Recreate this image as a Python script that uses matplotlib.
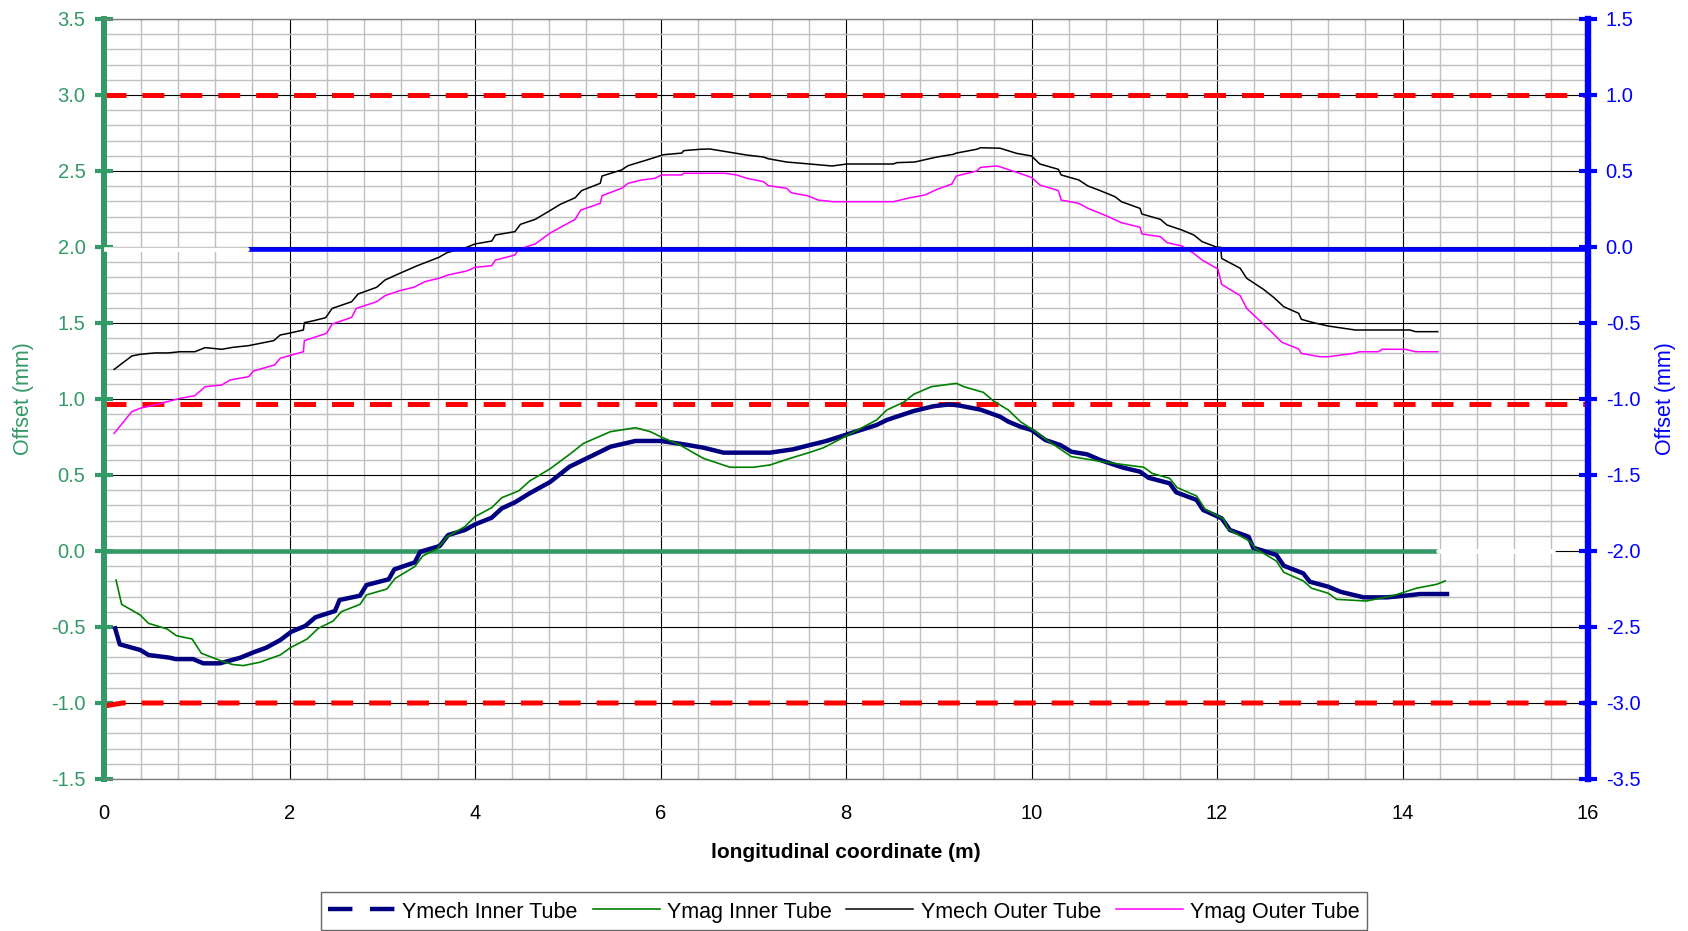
import matplotlib
matplotlib.use("Agg")
import matplotlib.pyplot as plt
from matplotlib.lines import Line2D
from matplotlib.ticker import MultipleLocator, FormatStrFormatter

# ---------------- data ----------------
x_mech_outer = [0.11, 0.30, 0.39, 0.55, 0.69, 0.82, 0.98, 1.09, 1.27, 1.39,
                1.56, 1.83, 1.90, 1.99, 2.15, 2.16, 2.26, 2.39, 2.46, 2.67,
                2.74, 2.94, 3.03, 3.19, 3.37, 3.61, 3.70, 3.91, 4.00, 4.18,
                4.22, 4.43, 4.49, 4.65, 4.81, 4.92, 5.08, 5.15, 5.35, 5.37,
                5.58, 5.65, 5.85, 6.00, 6.03, 6.23, 6.25, 6.43, 6.53, 6.71,
                6.93, 7.11, 7.16, 7.36, 7.61, 7.85, 8.01, 8.51, 8.55, 8.74,
                8.98, 9.16, 9.19, 9.41, 9.45, 9.66, 9.84, 10.00, 10.09, 10.29,
                10.32, 10.51, 10.61, 10.74, 10.90, 10.97, 11.17, 11.19, 11.39, 11.46,
                11.62, 11.75, 11.84, 12.00, 12.04, 12.05, 12.25, 12.32, 12.50, 12.61,
                12.72, 12.88, 12.91, 13.04, 13.20, 13.49, 14.08, 14.14, 14.38]
y_mech_outer = [1.195, 1.283, 1.294, 1.303, 1.303, 1.311, 1.311, 1.338, 1.327, 1.340,
                1.351, 1.384, 1.421, 1.432, 1.454, 1.502, 1.515, 1.535, 1.596, 1.640,
                1.691, 1.735, 1.783, 1.827, 1.875, 1.932, 1.963, 1.998, 2.020, 2.039,
                2.079, 2.101, 2.149, 2.182, 2.240, 2.281, 2.324, 2.371, 2.419, 2.467,
                2.507, 2.535, 2.572, 2.601, 2.607, 2.618, 2.634, 2.643, 2.645, 2.627,
                2.605, 2.592, 2.581, 2.559, 2.546, 2.533, 2.546, 2.546, 2.555, 2.559,
                2.592, 2.610, 2.618, 2.643, 2.653, 2.650, 2.616, 2.599, 2.546, 2.511,
                2.474, 2.441, 2.401, 2.371, 2.331, 2.298, 2.254, 2.217, 2.182, 2.145,
                2.112, 2.079, 2.035, 1.998, 1.998, 1.925, 1.860, 1.794, 1.722, 1.669,
                1.607, 1.564, 1.524, 1.502, 1.480, 1.454, 1.454, 1.443, 1.443]

x_mag_outer = [0.11, 0.30, 0.39, 0.50, 0.68, 0.82, 0.98, 1.09, 1.27, 1.36,
               1.56, 1.61, 1.84, 1.90, 2.15, 2.16, 2.40, 2.46, 2.67, 2.72,
               2.94, 3.03, 3.19, 3.34, 3.46, 3.61, 3.71, 3.91, 4.00, 4.18,
               4.22, 4.43, 4.47, 4.65, 4.81, 5.08, 5.14, 5.35, 5.37, 5.58,
               5.65, 5.80, 5.94, 6.01, 6.23, 6.25, 6.70, 6.82, 6.93, 7.11,
               7.16, 7.36, 7.41, 7.59, 7.70, 7.86, 8.51, 8.69, 8.85, 8.98,
               9.14, 9.19, 9.41, 9.45, 9.62, 9.66, 10.00, 10.09, 10.29, 10.32,
               10.51, 10.61, 10.81, 10.97, 11.17, 11.19, 11.39, 11.46, 11.62, 11.75,
               11.84, 12.01, 12.05, 12.25, 12.32, 12.50, 12.70, 12.88, 12.91, 13.11,
               13.20, 13.47, 13.54, 13.74, 13.78, 14.03, 14.14, 14.38]
y_mag_outer = [0.774, 0.917, 0.939, 0.954, 0.982, 1.004, 1.022, 1.081, 1.092, 1.125,
               1.147, 1.184, 1.224, 1.268, 1.311, 1.384, 1.432, 1.493, 1.537, 1.596,
               1.640, 1.680, 1.713, 1.735, 1.772, 1.794, 1.816, 1.842, 1.866, 1.877,
               1.914, 1.947, 1.985, 2.020, 2.092, 2.182, 2.243, 2.287, 2.338, 2.386,
               2.419, 2.441, 2.452, 2.474, 2.474, 2.485, 2.485, 2.474, 2.452, 2.430,
               2.404, 2.386, 2.357, 2.336, 2.309, 2.298, 2.298, 2.324, 2.342, 2.379,
               2.414, 2.467, 2.500, 2.524, 2.533, 2.528, 2.458, 2.408, 2.371, 2.309,
               2.287, 2.254, 2.204, 2.160, 2.130, 2.086, 2.068, 2.029, 2.007, 1.958,
               1.914, 1.855, 1.754, 1.680, 1.596, 1.493, 1.373, 1.329, 1.300, 1.278,
               1.278, 1.300, 1.311, 1.311, 1.327, 1.327, 1.311, 1.311]

x_mech_inner = [0.12, 0.17, 0.39, 0.48, 0.71, 0.77, 0.96, 1.07, 1.25, 1.47,
                1.61, 1.75, 1.90, 2.02, 2.17, 2.28, 2.49, 2.54, 2.76, 2.83,
                3.07, 3.13, 3.35, 3.41, 3.62, 3.71, 3.89, 4.00, 4.18, 4.29,
                4.43, 4.59, 4.81, 5.02, 5.28, 5.46, 5.73, 6.00, 6.25, 6.46,
                6.68, 7.18, 7.43, 7.61, 7.79, 8.01, 8.33, 8.44, 8.73, 8.94,
                9.12, 9.23, 9.45, 9.66, 9.75, 9.88, 10.00, 10.15, 10.31, 10.43,
                10.60, 10.74, 10.88, 10.99, 11.17, 11.26, 11.49, 11.56, 11.78, 11.85,
                12.05, 12.14, 12.34, 12.39, 12.64, 12.72, 12.93, 13.00, 13.20, 13.33,
                13.58, 13.83, 14.03, 14.19, 14.48]
y_mech_inner = [-0.509, -0.614, -0.651, -0.684, -0.702, -0.711, -0.711, -0.739, -0.739, -0.702,
                -0.667, -0.636, -0.586, -0.531, -0.493, -0.436, -0.395, -0.322, -0.294, -0.224,
                -0.186, -0.121, -0.075, -0.005, 0.033, 0.105, 0.138, 0.175, 0.219, 0.281,
                0.320, 0.380, 0.454, 0.555, 0.632, 0.686, 0.724, 0.724, 0.702, 0.680,
                0.647, 0.647, 0.669, 0.697, 0.724, 0.767, 0.829, 0.862, 0.921, 0.952,
                0.965, 0.956, 0.930, 0.884, 0.851, 0.818, 0.796, 0.730, 0.697, 0.653,
                0.636, 0.599, 0.570, 0.548, 0.522, 0.482, 0.445, 0.386, 0.336, 0.270,
                0.215, 0.138, 0.094, 0.022, -0.026, -0.097, -0.147, -0.202, -0.235, -0.268,
                -0.305, -0.305, -0.294, -0.283, -0.283]

x_mag_inner = [0.13, 0.19, 0.39, 0.48, 0.68, 0.78, 0.95, 1.05, 1.27, 1.38,
               1.50, 1.68, 1.90, 2.01, 2.19, 2.31, 2.47, 2.56, 2.76, 2.83,
               3.05, 3.14, 3.35, 3.44, 3.59, 3.70, 3.89, 4.00, 4.18, 4.29,
               4.47, 4.59, 4.81, 5.02, 5.17, 5.46, 5.73, 5.89, 6.00, 6.21,
               6.46, 6.75, 7.00, 7.18, 7.40, 7.61, 7.76, 8.01, 8.33, 8.44,
               8.62, 8.73, 8.92, 9.19, 9.27, 9.48, 9.59, 9.66, 9.75, 9.88,
               10.02, 10.15, 10.43, 10.81, 11.21, 11.30, 11.49, 11.57, 11.78, 11.87,
               12.07, 12.12, 12.36, 12.41, 12.64, 12.72, 12.93, 13.02, 13.20, 13.29,
               13.61, 13.90, 14.15, 14.37, 14.46]
y_mag_inner = [-0.191, -0.351, -0.421, -0.476, -0.513, -0.557, -0.579, -0.673, -0.724, -0.746,
               -0.754, -0.732, -0.684, -0.636, -0.579, -0.509, -0.461, -0.399, -0.351, -0.289,
               -0.250, -0.180, -0.103, -0.031, 0.013, 0.094, 0.160, 0.226, 0.285, 0.351,
               0.395, 0.461, 0.541, 0.636, 0.708, 0.785, 0.811, 0.785, 0.752, 0.697,
               0.610, 0.551, 0.551, 0.566, 0.610, 0.649, 0.680, 0.759, 0.862, 0.928,
               0.978, 1.031, 1.081, 1.103, 1.081, 1.044, 0.987, 0.961, 0.928, 0.851,
               0.796, 0.737, 0.621, 0.583, 0.551, 0.511, 0.478, 0.417, 0.362, 0.276,
               0.211, 0.145, 0.061, 0.018, -0.066, -0.140, -0.197, -0.245, -0.278, -0.318,
               -0.329, -0.294, -0.245, -0.219, -0.197]

# reference / tolerance lines (left-axis units)
tol_x = [0.0, 16.0]
tol_high = [3.0, 3.0]
tol_mid = [0.97, 0.97]
tol_low_x = [0.0, 0.2, 16.0]
tol_low = [-1.02, -1.0, -1.0]
zero_left_x = [0.0, 14.38]
zero_left_y = [0.0, 0.0]
zero_left_blank_x = [14.38, 15.62]
# right-axis zero line
zero_right_x = [1.54, 16.0]
zero_right_y = [-0.015, -0.015]
zero_right_blank_x = [0.0, 1.54]

series_labels = ["Ymech Inner Tube", "Ymag Inner Tube", "Ymech Outer Tube", "Ymag Outer Tube"]

# ---------------- style ----------------
plt.rcParams['font.family'] = ['Liberation Sans', 'DejaVu Sans']
plt.rcParams['axes.unicode_minus'] = False
plt.rcParams['lines.scale_dashes'] = False

GREEN = '#339966'
BLUE = '#0000ff'
NAVY = '#000080'
TICK_FS = 14.5

W, H = 1688, 931
fig = plt.figure(figsize=(W / 100, H / 100), dpi=100)
L, R, T, B = 104, 1588, 19, 779
ax = fig.add_axes([L / W, 1 - B / H, (R - L) / W, (B - T) / H])
ax.set_xlim(0, 16)
ax.set_ylim(-1.5, 3.5)
ax.xaxis.set_major_locator(MultipleLocator(2))
ax.xaxis.set_minor_locator(MultipleLocator(0.4))
ax.yaxis.set_major_locator(MultipleLocator(0.5))
ax.yaxis.set_minor_locator(MultipleLocator(0.1))
ax.yaxis.set_major_formatter(FormatStrFormatter('%.1f'))
ax.set_axisbelow(True)
ax.grid(which='minor', color='#c0c0c0', lw=1.0)
ax.grid(which='major', color='black', lw=0.8)

ax.tick_params(axis='x', which='both', length=0, pad=18.0, labelsize=TICK_FS, labelcolor='black')
ax.tick_params(axis='y', which='major', direction='inout', length=13.5, width=3,
               color=GREEN, labelcolor=GREEN, labelsize=TICK_FS, pad=6.5)
ax.tick_params(axis='y', which='minor', length=0)

ax.spines['left'].set_color(GREEN)
ax.spines['left'].set_linewidth(4.3)
ax.spines['right'].set_visible(False)
for s in ('top', 'bottom'):
    ax.spines[s].set_color('#808080')
    ax.spines[s].set_linewidth(1.0)

# tolerance lines
red_kw = dict(color='#ff0000', lw=3.6, dashes=(15.8, 11.5), solid_capstyle='butt')
ax.plot(tol_x, tol_high, **red_kw)
ax.plot(tol_x, tol_mid, **red_kw)
ax.plot(tol_low_x, tol_low, **red_kw)

# zero line of the left axis
ax.plot(zero_left_x, zero_left_y, color=GREEN, lw=3.3, solid_capstyle='butt')
ax.plot(zero_left_blank_x, zero_left_y, color='white', lw=3.3, solid_capstyle='round')

# data series
ax.plot(x_mech_inner, y_mech_inner, color=NAVY, lw=3.2, solid_joinstyle='round')
ax.plot(x_mag_inner, y_mag_inner, color='#008000', lw=1.2)
ax.plot(x_mech_outer, y_mech_outer, color='black', lw=1.1)
ax.plot(x_mag_outer, y_mag_outer, color='#ff00ff', lw=1.1)

# right axis
ax2 = ax.twinx()
ax2.set_ylim(-3.5, 1.5)
ax2.yaxis.set_major_locator(MultipleLocator(0.5))
ax2.yaxis.set_major_formatter(FormatStrFormatter('%.1f'))
ax2.tick_params(axis='y', which='major', direction='inout', length=13.5, width=3,
                color=BLUE, labelcolor=BLUE, labelsize=TICK_FS, pad=6.0)
for s in ('left', 'top', 'bottom'):
    ax2.spines[s].set_visible(False)
ax2.spines['right'].set_color(BLUE)
ax2.spines['right'].set_linewidth(4.6)
ax2.plot(zero_right_x, zero_right_y, color=BLUE, lw=3.3, solid_capstyle='butt')
ax2.plot(zero_right_blank_x, zero_right_y, color='white', lw=3.3, solid_capstyle='round')

# labels
ax.set_xlabel('longitudinal coordinate (m)', fontsize=15, fontweight='bold')
ax.xaxis.set_label_coords(0.5, -(852 - B) / (B - T))
ax.xaxis.label.set_va('center')

ax.set_ylabel('Offset (mm)', color=GREEN, fontsize=15.5)
ax.yaxis.set_label_coords((24 - L) / (R - L), 0.5)
ax.yaxis.label.set_va('center')

ax2.set_ylabel('Offset (mm)', color=BLUE, fontsize=15.5)
ax2.yaxis.set_label_coords((1666 - L) / (R - L), 0.5)
ax2.yaxis.label.set_va('center')
ax2.yaxis.label.set_rotation(90)

# legend
handles = [
    Line2D([], [], color=NAVY, lw=3.2, dashes=(17.6, 12.6)),
    Line2D([], [], color='#008000', lw=1.2),
    Line2D([], [], color='black', lw=1.1),
    Line2D([], [], color='#ff00ff', lw=1.1),
]
leg = fig.legend(handles, series_labels, loc='upper left',
                 bbox_to_anchor=(321 / W, 1 - 892 / H), bbox_transform=fig.transFigure,
                 ncol=4, fontsize=15.5, frameon=True, fancybox=False, borderaxespad=0,
                 borderpad=0.33, handlelength=3.11, handletextpad=0.33, columnspacing=0.7,
                 handleheight=1.3)
leg.get_frame().set_edgecolor('#404040')
leg.get_frame().set_linewidth(1.0)

fig.savefig('out.png', dpi=100)
